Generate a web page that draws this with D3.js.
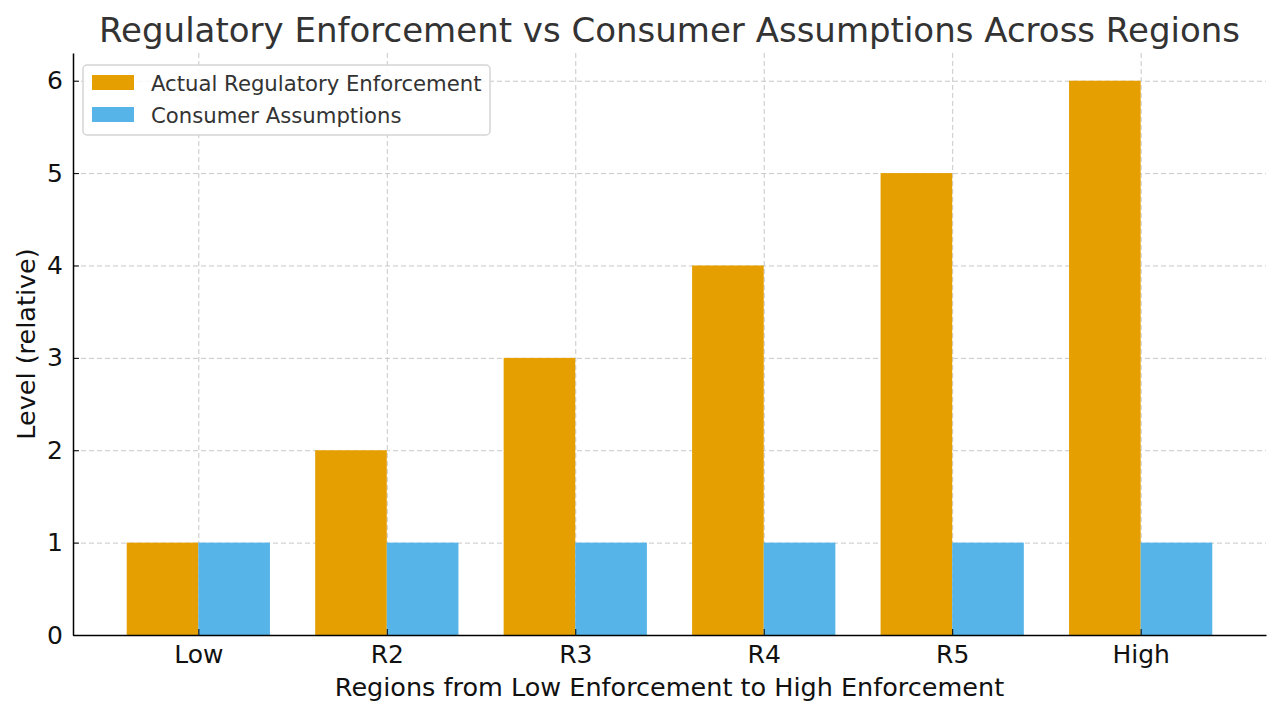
<!DOCTYPE html>
<html>
<head>
<meta charset="utf-8">
<script src="https://cdn.jsdelivr.net/npm/d3@7"></script>
<style>
  body { margin: 0; background: #fff; }
  svg text { font-family: "DejaVu Sans", sans-serif; }
  .grid line { stroke: #c8c8c8; stroke-dasharray: 5,3; stroke-width: 1; }
  .grid .domain { display: none; }
</style>
</head>
<body>
<div class="chart"></div>
<script>
// data
const regions = ['Low', 'R2', 'R3', 'R4', 'R5', 'High'];
const enforcement = [1, 2, 3, 4, 5, 6];
const assumptions = [1, 1, 1, 1, 1, 1];
const seriesNames = ['Actual Regulatory Enforcement', 'Consumer Assumptions'];
const seriesColors = ['#E69F00', '#56B4E9'];
const yTicks = [0, 1, 2, 3, 4, 5, 6];

const svg_width = 1280, svg_height = 717;
const margin = {top: 53, right: 14, bottom: 82, left: 73};
const w = svg_width - margin.left - margin.right;
const h = svg_height - margin.top - margin.bottom;

const svg = d3.select('.chart').append('svg')
  .attr('width', svg_width).attr('height', svg_height);
const g = svg.append('g').attr('transform', `translate(${margin.left},${margin.top})`);

// index scale like matplotlib: bars centred on integers, width 0.38 each
const barW = 0.38;
const xScale = d3.scaleLinear().domain([-0.665, 5.665]).range([0, w]);
const yScale = d3.scaleLinear().domain([0, 6.3]).range([h, 0]);

// grid
g.append('g').attr('class', 'grid')
  .call(d3.axisLeft(yScale).tickValues(yTicks).tickSize(-w).tickFormat(''));
g.append('g').attr('class', 'grid')
  .call(d3.axisBottom(xScale).tickValues(d3.range(regions.length)).tickSize(h).tickFormat(''));

// bars
const series = [enforcement, assumptions];
series.forEach((vals, si) => {
  g.selectAll('.bar' + si).data(vals).enter().append('rect')
    .attr('class', 'bar' + si)
    .attr('x', (d, i) => xScale(i + (si === 0 ? -barW : 0)))
    .attr('width', xScale(barW) - xScale(0))
    .attr('y', d => yScale(d))
    .attr('height', d => yScale(0) - yScale(d))
    .style('fill', seriesColors[si]);
});

// axes
const yAxis = g.append('g')
  .call(d3.axisLeft(yScale).tickValues(yTicks).tickFormat(d3.format('d'))
    .tickSizeInner(-6).tickSizeOuter(0).tickPadding(10));
yAxis.select('.domain').attr('stroke', '#000').attr('stroke-width', 1.5);
yAxis.selectAll('text').style('font-size', '25px').attr('fill', '#111');

const xAxis = g.append('g').attr('transform', `translate(0,${h})`)
  .call(d3.axisBottom(xScale).tickValues(d3.range(regions.length))
    .tickFormat(i => regions[i]).tickSizeInner(-6).tickSizeOuter(0).tickPadding(10));
xAxis.select('.domain').attr('stroke', '#000').attr('stroke-width', 1.5);
xAxis.selectAll('text').style('font-size', '25px').attr('fill', '#111');

// titles
svg.append('text').attr('x', margin.left + w / 2).attr('y', 42)
  .attr('text-anchor', 'middle').style('font-size', '34px').attr('fill', '#333')
  .text('Regulatory Enforcement vs Consumer Assumptions Across Regions');
svg.append('text').attr('x', margin.left + w / 2).attr('y', 696)
  .attr('text-anchor', 'middle').style('font-size', '25.5px').attr('fill', '#111')
  .text('Regions from Low Enforcement to High Enforcement');
svg.append('text')
  .attr('transform', `translate(35,${margin.top + h / 2}) rotate(-90)`)
  .attr('text-anchor', 'middle').style('font-size', '25.5px').attr('fill', '#111')
  .text('Level (relative)');

// legend
const legend = svg.append('g').attr('transform', 'translate(83,65)');
legend.append('rect').attr('width', 407).attr('height', 70).attr('rx', 4)
  .attr('fill', '#fff').attr('fill-opacity', 0.85).attr('stroke', '#d5d5d5').attr('stroke-width', 1.5);
seriesNames.forEach((name, i) => {
  const row = legend.append('g').attr('transform', `translate(9,${10 + i * 32})`);
  row.append('rect').attr('width', 42).attr('height', 15).attr('fill', seriesColors[i]);
  row.append('text').attr('x', 59).attr('y', 16).style('font-size', '21.2px').attr('fill', '#333').text(name);
});
</script>
</body>
</html>
